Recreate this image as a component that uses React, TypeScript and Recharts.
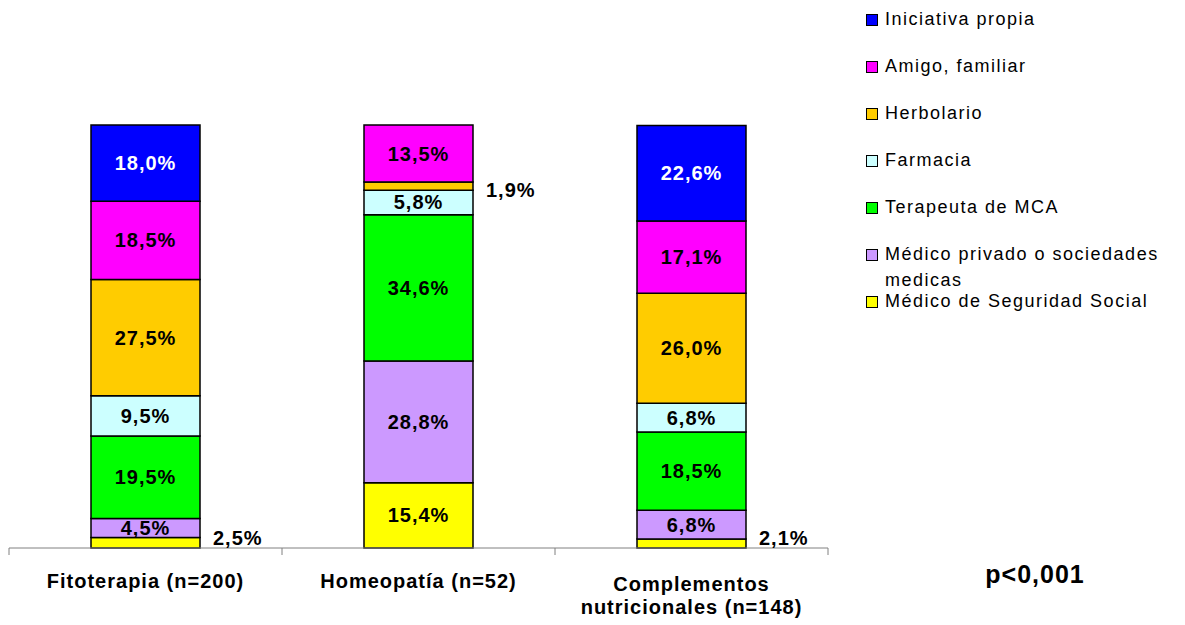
import { BarChart, Bar, XAxis, YAxis, Legend, LabelList } from 'recharts';

const categories = ['Fitoterapia (n=200)', 'Homeopatía (n=52)', 'Complementos nutricionales (n=148)'];
const categoryLines = [['Fitoterapia (n=200)'], ['Homeopatía (n=52)'], ['Complementos', 'nutricionales (n=148)']];

// bottom to top
const seguridadSocial = [2.5, 15.4, 2.1];
const medicoPrivado = [4.5, 28.8, 6.8];
const terapeutaMCA = [19.5, 34.6, 18.5];
const farmacia = [9.5, 5.8, 6.8];
const herbolario = [27.5, 1.9, 26.0];
const amigoFamiliar = [18.5, 13.5, 17.1];
const iniciativaPropia = [18.0, 0, 22.6];

const pValue = 'p<0,001';

const series = [
  { key: 'ss', name: 'Médico de Seguridad Social', color: '#FFFF00', values: seguridadSocial, text: '#000' },
  { key: 'priv', name: 'Médico privado o sociedades medicas', color: '#CC99FF', values: medicoPrivado, text: '#000' },
  { key: 'mca', name: 'Terapeuta de MCA', color: '#00FF00', values: terapeutaMCA, text: '#000' },
  { key: 'farm', name: 'Farmacia', color: '#CCFFFF', values: farmacia, text: '#000' },
  { key: 'herb', name: 'Herbolario', color: '#FFCC00', values: herbolario, text: '#000' },
  { key: 'amigo', name: 'Amigo, familiar', color: '#FF00FF', values: amigoFamiliar, text: '#000' },
  { key: 'inic', name: 'Iniciativa propia', color: '#0000FF', values: iniciativaPropia, text: '#fff' },
];

const data = categories.map((c, i) => {
  const row: any = { name: c };
  series.forEach((s) => (row[s.key] = s.values[i]));
  return row;
});

const FONT = 'Arial, "Liberation Sans", Helvetica, sans-serif';
const fmt = (v: number) => v.toFixed(1).replace('.', ',') + '%';

const makeLabel = (color: string, bottom: boolean) => (props: any) => {
  const { x, y, width, height } = props;
  let v = props.value;
  if (Array.isArray(v)) v = v[1] - v[0];
  v = Number(v);
  if (!v) return null;
  const cx = Number(x) + Number(width) / 2;
  const cy = Number(y) + Number(height) / 2;
  if (v < 3) {
    const ty = bottom ? Number(y) + Number(height) - 3 : cy + 11;
    return (
      <text x={Number(x) + Number(width) + 13} y={ty} fontFamily={FONT} fontWeight="bold" fontSize={20}
        letterSpacing={1} fill="#000">{fmt(v)}</text>
    );
  }
  return (
    <text x={cx} y={cy} textAnchor="middle" dominantBaseline="central" fontFamily={FONT} fontWeight="bold"
      fontSize={20} letterSpacing={1} fill={color}>{fmt(v)}</text>
  );
};

const CategoryTick = (props: any) => {
  const { x, y, payload, width, visibleTicksCount, index } = props;
  const band = Number(width) / Number(visibleTicksCount || 3);
  const y0 = Number(y);
  const lines = categoryLines[payload.index ?? index] || [payload.value];
  return (
    <g>
      <line x1={x - band / 2} x2={x + band / 2} y1={y0} y2={y0} stroke="#808080" strokeWidth={1} />
      <line x1={x - band / 2} x2={x - band / 2} y1={y0} y2={y0 + 7} stroke="#808080" strokeWidth={1} />
      {index === visibleTicksCount - 1 && (
        <line x1={x + band / 2} x2={x + band / 2} y1={y0} y2={y0 + 7} stroke="#808080" strokeWidth={1} />
      )}
      {lines.map((l: string, i: number) => (
        <text key={i} x={x} y={y0 + 40 + (lines.length > 1 ? 3 : 0) + i * 23} textAnchor="middle" fontFamily={FONT}
          fontWeight="bold" fontSize={20} letterSpacing={1} fill="#000">{l}</text>
      ))}
    </g>
  );
};

const LegendContent = () => (
  <div style={{ width: 319, fontFamily: FONT, fontSize: 18, letterSpacing: 1.5, color: '#000' }}>
    {[...series].reverse().map((s) => (
      <div key={s.key} style={{ height: 47, display: 'flex', alignItems: 'flex-start' }}>
        <span style={{ display: 'inline-block', width: 10, height: 10, background: s.color, border: '1px solid #000',
          marginTop: 6, marginRight: 7, flex: 'none' }} />
        <span style={{ width: 300, lineHeight: '26px', marginTop: -2 }}>{s.name}</span>
      </div>
    ))}
  </div>
);

export default function App() {
  return (
    <div style={{ position: 'absolute', left: 0, top: 0, width: 1185, height: 625, background: '#fff' }}>
      <BarChart width={1185} height={625} data={data} margin={{ top: 125, right: 357, left: 9, bottom: 0 }}
        barSize={109}>
        <XAxis dataKey="name" height={77} axisLine={false} tickLine={false} tickSize={0} tickMargin={0}
          tick={<CategoryTick />} interval={0} />
        <YAxis hide domain={[0, 100]} />
        <Legend verticalAlign="middle" align="right" layout="horizontal" content={<LegendContent />}
          wrapperStyle={{ position: 'absolute', left: 866, top: 8, width: 0, height: 0, overflow: 'visible' }} />
        {series.map((s, i) => (
          <Bar key={s.key} dataKey={s.key} name={s.name} stackId="a" fill={s.color} stroke="#000"
            strokeWidth={1.5} isAnimationActive={false}>
            <LabelList dataKey={s.key} content={makeLabel(s.text, i === 0)} />
          </Bar>
        ))}
      </BarChart>
      <div style={{ position: 'absolute', left: 935, top: 560, width: 200, textAlign: 'center', fontFamily: FONT,
        fontWeight: 'bold', fontSize: 25, letterSpacing: 1 }}>{pValue}</div>
    </div>
  );
}
